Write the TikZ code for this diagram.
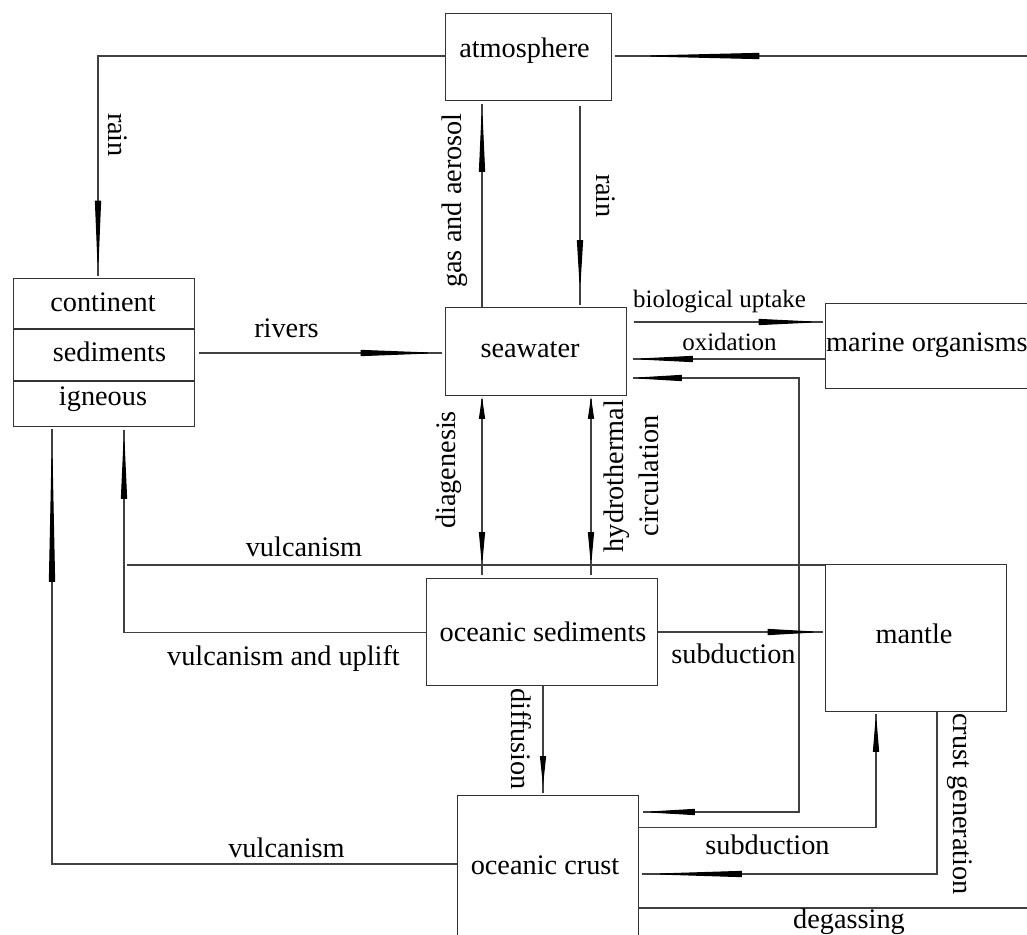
\documentclass[tikz,border=0pt]{standalone}
\usepackage{fontspec}
\setmainfont{Liberation Serif}
\usetikzlibrary{arrows.meta,decorations.markings}
\tikzset{
  box/.style={draw=black!80, line width=1.3pt, inner sep=0pt, anchor=north west},
  con/.style={draw=black!75, line width=1.2pt},
  wedge/.style 2 args={postaction={decorate,decoration={markings,
      mark=at position #1 with {\arrow{Triangle[length=#2,width=6pt,color=black]}}}}},
  rwedge/.style 2 args={postaction={decorate,decoration={markings,
      mark=at position #1 with {\arrowreversed{Triangle[length=#2,width=6pt,color=black]}}}}},
  lbl/.style={font=\fontsize{28.3}{35}\selectfont, inner sep=0pt, text=black},
  slbl/.style={font=\fontsize{25}{30}\selectfont, inner sep=0pt, text=black},
}
\begin{document}
\begin{tikzpicture}[x=1pt,y=-1pt]
\useasboundingbox (0,0) rectangle (1027,934);
\clip (0,0) rectangle (1027,934);
% boxes
\node[box, minimum width=166pt, minimum height=87pt] (atm) at (445,13) {};
\node[box, minimum width=181pt, minimum height=148pt] (cont) at (13,278) {};
\node[box, minimum width=181pt, minimum height=88pt] (sea) at (445,307) {};
\node[box, minimum width=230pt, minimum height=85pt] (mar) at (825,303) {};
\node[box, minimum width=231pt, minimum height=107pt] (ocs) at (426,578) {};
\node[box, minimum width=181pt, minimum height=147pt] (mant) at (825,564) {};
\node[box, minimum width=181pt, minimum height=160pt] (crust) at (457,795) {};
% continent dividers
\coordinate (ydivA) at (0,329);
\coordinate (ydivB) at (0,381);
\draw[draw=black!80, line width=1.3pt] (cont.west |- ydivA) -- (cont.east |- ydivA);
\draw[draw=black!80, line width=1.3pt] (cont.west |- ydivB) -- (cont.east |- ydivB);
% box texts
\node[lbl] (tatm) at (524.5,51) {atmosphere};
\node[lbl] (tcont) at (103,302) {continent};
\node[lbl] (tsed) at (109.5,352) {sediments};
\node[lbl] (tign) at (103,399) {igneous};
\node[lbl] (tsea) at (530,350) {seawater};
\node[lbl, anchor=west] (tmar) at (826,345) {marine organisms};
\node[lbl] (tocs) at (543,632) {oceanic sediments};
\node[lbl] (tmant) at (914,634) {mantle};
\node[lbl] (tcrust) at (545,865) {oceanic crust};
% helper coordinates
\coordinate (yatm) at (0,56);
\coordinate (xrainl) at (98,0);
\coordinate (atmfeed) at (1040,56);
\coordinate (xgas) at (482,0);
\coordinate (xrain) at (580,0);
\coordinate (yriv) at (0,353);
\coordinate (ybio) at (0,322);
\coordinate (yox) at (0,359);
\coordinate (yhyd) at (0,378);
\coordinate (xhyd) at (799,0);
\coordinate (ycrhy) at (0,812);
\coordinate (xhydro) at (591,0);
\coordinate (xvu) at (124,0);
\coordinate (yvu) at (0,632.6);
\coordinate (yvulc) at (0,565);
\coordinate (vulcend) at (127,565);
\coordinate (ysub) at (0,632);
\coordinate (xdiff) at (543,0);
\coordinate (ysubb) at (0,827.5);
\coordinate (xsubb) at (876,0);
\coordinate (xcg) at (937,0);
\coordinate (ycg) at (0,874);
\coordinate (degend) at (1040,908);
\coordinate (yvl) at (0,864);
\coordinate (xvl) at (52,0);
% connectors
\draw[con, wedge={-0.5pt}{77pt}, shorten >=2pt] (atm.west |- yatm) -| (cont.north -| xrainl);
\draw[con, wedge={-11pt}{136pt}, shorten >=3pt] (atmfeed) -- (atm.east |- atmfeed);
\draw[con, wedge={-0.5pt}{70pt}, shorten >=3pt] (sea.north -| xgas) -- (atm.south -| xgas);
\draw[con, wedge={-14pt}{53pt}, shorten >=2pt, shorten <=5pt] (atm.south -| xrain) -- (sea.north -| xrain);
\draw[con, wedge={-0.5pt}{84pt}, shorten >=3pt, shorten <=4pt] (cont.east |- yriv) -- (sea.west |- yriv);
\draw[con, wedge={-0.5pt}{66pt}, shorten >=2pt, shorten <=7pt] (sea.east |- ybio) -- (mar.west |- ybio);
\draw[con, wedge={-0.5pt}{65pt}, shorten >=6pt] (mar.west |- yox) -- (sea.east |- yox);
\draw[con, rwedge={0.5pt}{54pt}, wedge={-0.5pt}{55pt}, shorten <=6pt, shorten >=4pt]
  (sea.east |- yhyd) -| (xhyd |- ycrhy) -- (crust.east |- ycrhy);
\draw[con, rwedge={0.5pt}{22pt}, wedge={-11pt}{35pt}, shorten <=3pt, shorten >=3pt]
  (sea.south -| xgas) -- (ocs.north -| xgas);
\draw[con, rwedge={0.5pt}{22pt}, wedge={-11pt}{35pt}, shorten <=3pt, shorten >=3pt]
  (sea.south -| xhydro) -- (ocs.north -| xhydro);
\draw[con, wedge={-0.5pt}{71pt}, shorten >=3pt] (ocs.west |- yvu) -| (cont.south -| xvu);
\draw[con] (mant.west |- yvulc) -- (vulcend);
\draw[con, wedge={-0.5pt}{57pt}, shorten >=2pt] (ocs.east |- ysub) -- (mant.west |- ysub);
\draw[con, wedge={-9pt}{30pt}, shorten >=2pt] (ocs.south -| xdiff) -- (crust.north -| xdiff);
\draw[con, wedge={-0.5pt}{39pt}, shorten >=2pt] (crust.east |- ysubb) -| (mant.south -| xsubb);
\draw[con, wedge={-0.5pt}{102pt}, shorten >=3pt] (mant.south -| xcg) |- (crust.east |- ycg);
\draw[con] (crust.east |- degend) -- (degend);
\draw[con, wedge={-0.5pt}{154pt}, shorten >=2pt] (crust.west |- yvl) -| (cont.south -| xvl);
% connector labels
\node[lbl, rotate=-90] (lrainl) at (118,135) {rain};
\node[lbl, rotate=90] (lgas) at (455,200.5) {gas and aerosol};
\node[lbl, rotate=-90] (lrain) at (606,196) {rain};
\node[lbl] (lriv) at (286.5,328) {rivers};
\node[slbl] (lbio) at (719.5,301.5) {biological uptake};
\node[slbl] (lox) at (729.5,341.5) {oxidation};
\node[lbl, rotate=90] (ldiag) at (448.5,470) {diagenesis};
\node[lbl, rotate=90, align=center] (lhyd) at (631,476) {hydrothermal\\circulation};
\node[lbl] (lvulc) at (304,546.5) {vulcanism};
\node[lbl] (lvu) at (283.5,659) {vulcanism and uplift};
\node[lbl] (lsub) at (733.5,653.5) {subduction};
\node[lbl, rotate=-90] (ldiff) at (521.5,739) {diffusion};
\node[lbl] (lsubb) at (767.5,845) {subduction};
\node[lbl, rotate=-90] (lcg) at (960,804) {crust generation};
\node[lbl] (lvl) at (286.5,848) {vulcanism};
\node[lbl] (ldeg) at (849,921.5) {degassing};
\end{tikzpicture}
\end{document}
